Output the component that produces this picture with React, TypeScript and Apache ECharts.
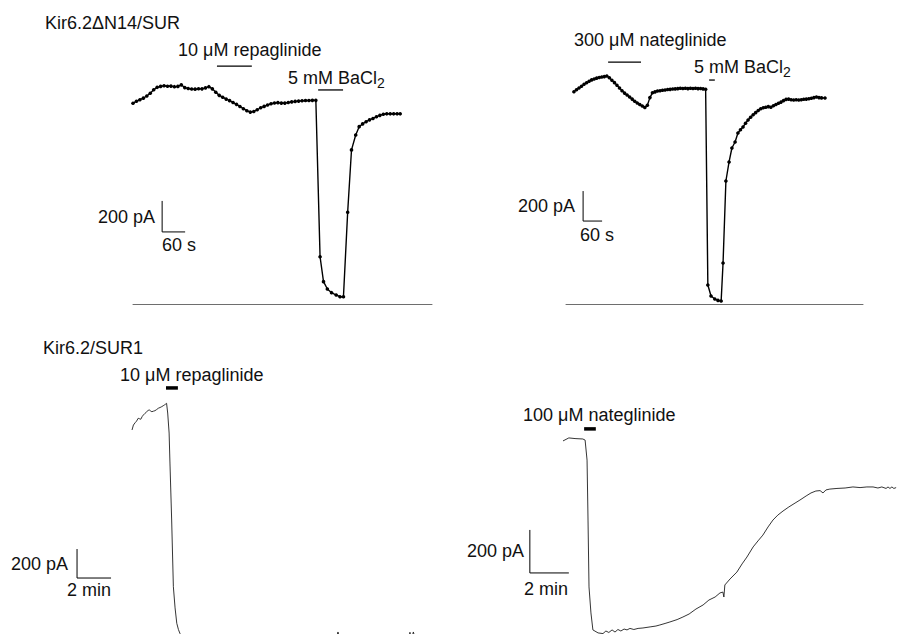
import React, { useEffect, useRef } from 'react';
import * as echarts from 'echarts';

const FONT_FAMILY = '"Liberation Sans", Arial, Helvetica, sans-serif';

// ---- Data: [time (s), current (pA)] ----
// Kir6.2ΔN14/SUR, 10 µM repaglinide then 5 mM BaCl2
const deltaRepaglinideTrace: [number, number][] = [
  [0, 1295], [9, 1308], [18, 1318], [27, 1328], [36, 1342], [45, 1360], [54, 1382], [63, 1398],
  [72, 1404], [81, 1408], [90, 1405], [99, 1406], [108, 1402], [117, 1404], [126, 1414], [135, 1396],
  [144, 1390], [153, 1387], [162, 1386], [171, 1389], [180, 1388], [189, 1394], [198, 1402], [207, 1388],
  [216, 1366], [225, 1346], [234, 1334], [243, 1322], [252, 1312], [261, 1300], [270, 1288], [279, 1274],
  [288, 1260], [297, 1247], [306, 1238], [315, 1242], [324, 1253], [333, 1266], [342, 1275], [351, 1284],
  [360, 1292], [369, 1297], [378, 1299], [387, 1296], [396, 1296], [405, 1300], [414, 1304], [423, 1307],
  [432, 1309], [441, 1311], [450, 1313], [459, 1313], [468, 1314], [477, 1314], [488, 305], [497, 144],
  [507, 97], [518, 73], [530, 58], [540, 47], [549, 47], [560, 592], [570, 994], [581, 1090],
  [590, 1144], [599, 1162], [608, 1176], [617, 1188], [626, 1197], [635, 1208], [644, 1217], [653, 1224],
  [662, 1227], [671, 1227], [680, 1227], [689, 1227], [697, 1227],
];
const deltaRepaglinideBar: [number, number][] = [[219, 1535], [310, 1535]];
const deltaRepaglinideBaBar: [number, number][] = [[483, 1381], [548, 1381]];
const deltaRepaglinideScale: [number, number][] = [[76, 665], [76, 465], [136, 465]];

// Kir6.2ΔN14/SUR, 300 µM nateglinide then 5 mM BaCl2
const deltaNateglinideTrace: [number, number][] = [
  [25, 1415], [33, 1428], [41, 1440], [49, 1452], [57, 1465], [65, 1475], [73, 1485], [81, 1494],
  [89, 1500], [97, 1506], [105, 1510], [113, 1513], [121, 1516], [129, 1520], [137, 1508], [145, 1492],
  [153, 1476], [161, 1458], [169, 1440], [177, 1422], [185, 1406], [193, 1393], [201, 1380], [209, 1366],
  [217, 1352], [225, 1340], [233, 1330], [241, 1320], [249, 1310], [257, 1325], [265, 1376], [273, 1408],
  [281, 1414], [289, 1420], [297, 1422], [305, 1425], [313, 1427], [321, 1430], [329, 1431], [337, 1433],
  [345, 1434], [353, 1436], [361, 1438], [369, 1437], [377, 1438], [385, 1436], [393, 1438], [401, 1437],
  [409, 1438], [417, 1436], [425, 1437], [433, 1434], [441, 1432], [448, 127], [458, 53], [470, 33],
  [480, 24], [490, 20], [496, 273], [505, 820], [515, 947], [524, 1040], [534, 1080], [543, 1140],
  [551, 1162], [559, 1180], [567, 1205], [575, 1227], [583, 1245], [591, 1262], [599, 1276], [607, 1290],
  [615, 1302], [623, 1308], [631, 1312], [639, 1316], [647, 1312], [655, 1322], [663, 1330], [671, 1338],
  [679, 1346], [687, 1356], [695, 1364], [703, 1366], [711, 1362], [719, 1360], [727, 1362], [735, 1360],
  [743, 1362], [751, 1365], [759, 1366], [767, 1368], [775, 1372], [783, 1376], [791, 1380], [799, 1376],
  [807, 1374], [818, 1373],
];
const deltaNateglinideBar: [number, number][] = [[133, 1613], [237, 1613]];
const deltaNateglinideBaBar: [number, number][] = [[452, 1493], [470, 1493]];
const deltaNateglinideScale: [number, number][] = [[54, 753], [54, 553], [114, 553]];

// Kir6.2/SUR1, 10 µM repaglinide
const wtRepaglinideTrace: [number, number][] = [
  [0, 1607], [5, 1641], [11, 1657], [16, 1668], [22, 1688], [27, 1684], [31, 1681], [36, 1700],
  [40, 1710], [46, 1722], [52, 1733], [57, 1742], [61, 1745], [66, 1738], [70, 1733], [76, 1737],
  [81, 1740], [87, 1748], [93, 1757], [99, 1762], [105, 1768], [110, 1774], [114, 1779], [119, 1786],
  [122, 1791], [126, 1724], [131, 1586], [134, 1379], [140, 986], [146, 526], [152, 380], [158, 274],
  [164, 230], [169, 205], [180, 170], [200, 150], [300, 140], [500, 145], [718, 150], [727, 214],
  [736, 150], [975, 150], [981, 212], [986, 160], [993, 214], [1000, 165], [1016, 165],
];
const wtRepaglinideBar: [number, number][] = [[120, 1897], [162, 1897]];
const wtRepaglinideScale: [number, number][] = [[-194, 786], [-194, 586], [-74, 586]];

// Kir6.2/SUR1, 100 µM nateglinide
const wtNateglinideTrace: [number, number][] = [
  [0, 898], [18, 912], [37, 909], [61, 907], [68, 902], [74, 809], [77, 530], [80, 219],
  [86, 98], [92, 19], [108, 5], [123, 2], [132, 14], [141, 7], [151, 19], [160, 9],
  [169, 21], [178, 14], [188, 23], [197, 19], [206, 26], [218, 21], [231, 26], [246, 28],
  [268, 33], [286, 37], [298, 42], [314, 49], [329, 56], [351, 67], [369, 79], [388, 93],
  [409, 116], [431, 135], [449, 158], [468, 172], [483, 191], [492, 195], [495, 172], [498, 228],
  [514, 256], [535, 288], [551, 326], [566, 358], [585, 405], [600, 433], [615, 460], [631, 498],
  [646, 530], [661, 553], [677, 572], [695, 591], [714, 609], [729, 623], [748, 642], [763, 656],
  [778, 665], [791, 667], [800, 656], [809, 670], [821, 674], [843, 677], [868, 679], [892, 684],
  [914, 681], [935, 684], [954, 684], [969, 679], [981, 684], [994, 677], [1000, 684], [1006, 677],
  [1012, 684], [1018, 677], [1025, 681],
];
const wtNateglinideBar: [number, number][] = [[65, 954], [101, 954]];
const wtNateglinideScale: [number, number][] = [[-102, 484], [-102, 284], [18, 284]];

// ---- Labels ----
const panelTitles = ['Kir6.2\u0394N14/SUR', 'Kir6.2/SUR1'];
const drugLabels = ['10 \u03bcM repaglinide', '300 \u03bcM nateglinide', '10 \u03bcM repaglinide', '100 \u03bcM nateglinide'];
const bariumLabel = '5 mM BaCl{sub|2}';
const currentScaleLabel = '200 pA';
const timeScaleLabels = ['60 s', '60 s', '2 min', '2 min'];

export default function App() {
  const ref = useRef<HTMLDivElement>(null);

  useEffect(() => {
    if (!ref.current) return;
    const chart = echarts.init(ref.current, undefined, { renderer: 'svg', width: 912, height: 634 });

    const grids = [
      { left: 133, top: 25, width: 299, height: 279 },
      { left: 566, top: 34, width: 297, height: 270 },
      { left: 64, top: 373, width: 374, height: 261 },
      { left: 524, top: 376, width: 377, height: 258 },
    ];
    const xRanges = [[0, 780], [0, 938], [-240, 1080], [-120, 1040]];
    const yRanges = [[0, 1800], [0, 1800], [200, 2000], [0, 1200]];

    const xAxis = xRanges.map(([min, max], i) => ({
      type: 'value', gridIndex: i, min, max,
      axisLine: { show: i < 2, onZero: true, lineStyle: { color: '#6e6e6e', width: 1 } },
      axisTick: { show: false }, axisLabel: { show: false }, splitLine: { show: false },
    }));
    const yAxis = yRanges.map(([min, max], i) => ({
      type: 'value', gridIndex: i, min, max, show: false, splitLine: { show: false },
    }));

    const dotted = (data: [number, number][], i: number) => ({
      type: 'line', xAxisIndex: i, yAxisIndex: i, data, silent: true,
      symbol: 'circle', symbolSize: 3.6, showSymbol: true,
      lineStyle: { color: '#000', width: 1.4 }, itemStyle: { color: '#000' }, z: 3,
    });
    const thin = (data: [number, number][], i: number) => ({
      type: 'line', xAxisIndex: i, yAxisIndex: i, data, silent: true, symbol: 'none',
      lineStyle: { color: '#1e1e1e', width: 0.9 }, z: 3,
    });
    const mark = (data: [number, number][], i: number, width: number) => ({
      type: 'line', xAxisIndex: i, yAxisIndex: i, data, silent: true, symbol: 'none', clip: false,
      lineStyle: { color: '#000', width }, z: 4,
    });

    const series = [
      dotted(deltaRepaglinideTrace, 0),
      mark(deltaRepaglinideBar, 0, 1.3),
      mark(deltaRepaglinideBaBar, 0, 1.3),
      mark(deltaRepaglinideScale, 0, 1),
      dotted(deltaNateglinideTrace, 1),
      mark(deltaNateglinideBar, 1, 1.3),
      mark(deltaNateglinideBaBar, 1, 1.3),
      mark(deltaNateglinideScale, 1, 1),
      thin(wtRepaglinideTrace, 2),
      mark(wtRepaglinideBar, 2, 3.5),
      mark(wtRepaglinideScale, 2, 1),
      thin(wtNateglinideTrace, 3),
      mark(wtNateglinideBar, 3, 3.5),
      mark(wtNateglinideScale, 3, 1),
    ];

    const font = `18px ${FONT_FAMILY}`;
    const txt = (text: string, x: number, y: number, align = 'left') => ({
      type: 'text', x, y, silent: true, z: 10,
      style: {
        text, font, fill: '#111', align, verticalAlign: 'middle',
        rich: {
          sub: { fontSize: 14, fontFamily: FONT_FAMILY, fill: '#111', padding: [10, 0, 0, 0] },
        },
      },
    });

    const graphic = [
      txt(panelTitles[0], 45, 23),
      txt(drugLabels[0], 178, 50),
      txt(bariumLabel, 288, 78),
      txt(currentScaleLabel, 155, 217, 'right'),
      txt(timeScaleLabels[0], 162, 245),
      txt(drugLabels[1], 574, 40),
      txt(bariumLabel, 694, 67),
      txt(currentScaleLabel, 575, 206, 'right'),
      txt(timeScaleLabels[1], 580, 235),
      txt(panelTitles[1], 43, 348),
      txt(drugLabels[2], 120, 375),
      txt(currentScaleLabel, 68, 564, 'right'),
      txt(timeScaleLabels[2], 67, 590),
      txt(drugLabels[3], 523, 415),
      txt(currentScaleLabel, 524, 551, 'right'),
      txt(timeScaleLabels[3], 524, 589),
    ];

    chart.setOption({
      animation: false,
      backgroundColor: '#fff',
      grid: grids,
      xAxis,
      yAxis,
      series,
      graphic,
    } as any);

    return () => chart.dispose();
  }, []);

  return (
    <div
      ref={ref}
      style={{ position: 'absolute', left: 0, top: 0, width: 912, height: 634, background: '#fff' }}
    />
  );
}
